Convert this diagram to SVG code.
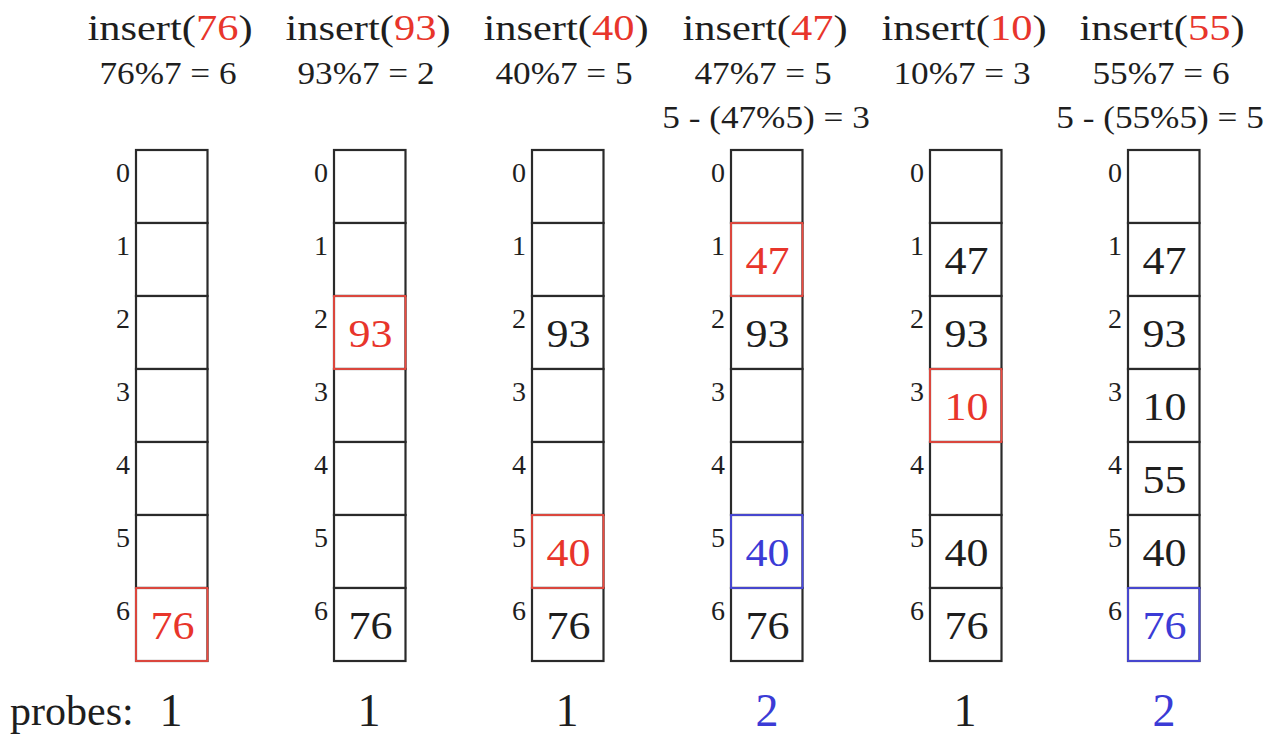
<svg xmlns="http://www.w3.org/2000/svg" width="1274" height="744" viewBox="0 0 1274 744">
<style>
text{font-family:"Liberation Serif","Times New Roman",serif;fill:#1e1e1e}
.h1{font-size:36px}
.h2{font-size:32px}
.idx{font-size:28px;text-anchor:end}
.val{font-size:40px}
.pr{font-size:42px}
.pn{font-size:46px}
.red{fill:#e8352b}
.blue{fill:#3b3bd6}
rect{fill:#fff;stroke:#2a2a2a;stroke-width:2.2}
rect.hr{fill:none;stroke:#ee4a40;stroke-width:1.8}
rect.hb{fill:none;stroke:#4a4ae0;stroke-width:1.8}
</style>
<rect x="0" y="0" width="1274" height="744" style="fill:#fff;stroke:none"/>

<!-- headers -->
<g id="headers" text-anchor="middle">
<text class="h1" transform="translate(170,40) scale(1.18,1)">insert(<tspan class="red">76</tspan>)</text>
<text class="h2" transform="translate(168,84) scale(1.1,1)">76%7 = 6</text>
<text class="h1" transform="translate(368,40) scale(1.18,1)">insert(<tspan class="red">93</tspan>)</text>
<text class="h2" transform="translate(366,84) scale(1.1,1)">93%7 = 2</text>
<text class="h1" transform="translate(566,40) scale(1.18,1)">insert(<tspan class="red">40</tspan>)</text>
<text class="h2" transform="translate(564,84) scale(1.1,1)">40%7 = 5</text>
<text class="h1" transform="translate(765,40) scale(1.18,1)">insert(<tspan class="red">47</tspan>)</text>
<text class="h2" transform="translate(763,84) scale(1.1,1)">47%7 = 5</text>
<text class="h2" transform="translate(766,128) scale(1.1,1)">5 - (47%5) = 3</text>
<text class="h1" transform="translate(964,40) scale(1.18,1)">insert(<tspan class="red">10</tspan>)</text>
<text class="h2" transform="translate(962,84) scale(1.1,1)">10%7 = 3</text>
<text class="h1" transform="translate(1162,40) scale(1.18,1)">insert(<tspan class="red">55</tspan>)</text>
<text class="h2" transform="translate(1161,84) scale(1.1,1)">55%7 = 6</text>
<text class="h2" transform="translate(1160,128) scale(1.1,1)">5 - (55%5) = 5</text>
</g>

<!-- column 1 -->
<g id="table1">
<rect x="136" y="150" width="71.5" height="73"/><rect x="136" y="223" width="71.5" height="73"/><rect x="136" y="296" width="71.5" height="73"/><rect x="136" y="369" width="71.5" height="73"/><rect x="136" y="442" width="71.5" height="73"/><rect x="136" y="515" width="71.5" height="73"/><rect x="136" y="588" width="71.5" height="73"/>
<rect class="hr" x="136" y="588" width="71.5" height="73"/>
<text class="idx" x="130" y="182">0</text><text class="idx" x="130" y="255">1</text><text class="idx" x="130" y="328">2</text><text class="idx" x="130" y="401">3</text><text class="idx" x="130" y="474">4</text><text class="idx" x="130" y="547">5</text><text class="idx" x="130" y="620">6</text>
<g id="t1-6"><text class="val red" text-anchor="middle" transform="translate(172.5,639) scale(1.1,1)">76</text></g>
</g>

<!-- column 2 -->
<g id="table2">
<rect x="334" y="150" width="71.5" height="73"/><rect x="334" y="223" width="71.5" height="73"/><rect x="334" y="296" width="71.5" height="73"/><rect x="334" y="369" width="71.5" height="73"/><rect x="334" y="442" width="71.5" height="73"/><rect x="334" y="515" width="71.5" height="73"/><rect x="334" y="588" width="71.5" height="73"/>
<rect class="hr" x="334" y="296" width="71.5" height="73"/>
<text class="idx" x="328" y="182">0</text><text class="idx" x="328" y="255">1</text><text class="idx" x="328" y="328">2</text><text class="idx" x="328" y="401">3</text><text class="idx" x="328" y="474">4</text><text class="idx" x="328" y="547">5</text><text class="idx" x="328" y="620">6</text>
<g id="t2-2"><text class="val red" text-anchor="middle" transform="translate(370.5,347) scale(1.1,1)">93</text></g>
<g id="t2-6"><text class="val" text-anchor="middle" transform="translate(370.5,639) scale(1.1,1)">76</text></g>
</g>

<!-- column 3 -->
<g id="table3">
<rect x="532" y="150" width="71.5" height="73"/><rect x="532" y="223" width="71.5" height="73"/><rect x="532" y="296" width="71.5" height="73"/><rect x="532" y="369" width="71.5" height="73"/><rect x="532" y="442" width="71.5" height="73"/><rect x="532" y="515" width="71.5" height="73"/><rect x="532" y="588" width="71.5" height="73"/>
<rect class="hr" x="532" y="515" width="71.5" height="73"/>
<text class="idx" x="526" y="182">0</text><text class="idx" x="526" y="255">1</text><text class="idx" x="526" y="328">2</text><text class="idx" x="526" y="401">3</text><text class="idx" x="526" y="474">4</text><text class="idx" x="526" y="547">5</text><text class="idx" x="526" y="620">6</text>
<g id="t3-2"><text class="val" text-anchor="middle" transform="translate(568.5,347) scale(1.1,1)">93</text></g>
<g id="t3-5"><text class="val red" text-anchor="middle" transform="translate(568.5,566) scale(1.1,1)">40</text></g>
<g id="t3-6"><text class="val" text-anchor="middle" transform="translate(568.5,639) scale(1.1,1)">76</text></g>
</g>

<!-- column 4 -->
<g id="table4">
<rect x="731" y="150" width="71.5" height="73"/><rect x="731" y="223" width="71.5" height="73"/><rect x="731" y="296" width="71.5" height="73"/><rect x="731" y="369" width="71.5" height="73"/><rect x="731" y="442" width="71.5" height="73"/><rect x="731" y="515" width="71.5" height="73"/><rect x="731" y="588" width="71.5" height="73"/>
<rect class="hr" x="731" y="223" width="71.5" height="73"/>
<rect class="hb" x="731" y="515" width="71.5" height="73"/>
<text class="idx" x="725" y="182">0</text><text class="idx" x="725" y="255">1</text><text class="idx" x="725" y="328">2</text><text class="idx" x="725" y="401">3</text><text class="idx" x="725" y="474">4</text><text class="idx" x="725" y="547">5</text><text class="idx" x="725" y="620">6</text>
<g id="t4-1"><text class="val red" text-anchor="middle" transform="translate(767.5,274) scale(1.1,1)">47</text></g>
<g id="t4-2"><text class="val" text-anchor="middle" transform="translate(767.5,347) scale(1.1,1)">93</text></g>
<g id="t4-5"><text class="val blue" text-anchor="middle" transform="translate(767.5,566) scale(1.1,1)">40</text></g>
<g id="t4-6"><text class="val" text-anchor="middle" transform="translate(767.5,639) scale(1.1,1)">76</text></g>
</g>

<!-- column 5 -->
<g id="table5">
<rect x="930" y="150" width="71.5" height="73"/><rect x="930" y="223" width="71.5" height="73"/><rect x="930" y="296" width="71.5" height="73"/><rect x="930" y="369" width="71.5" height="73"/><rect x="930" y="442" width="71.5" height="73"/><rect x="930" y="515" width="71.5" height="73"/><rect x="930" y="588" width="71.5" height="73"/>
<rect class="hr" x="930" y="369" width="71.5" height="73"/>
<text class="idx" x="924" y="182">0</text><text class="idx" x="924" y="255">1</text><text class="idx" x="924" y="328">2</text><text class="idx" x="924" y="401">3</text><text class="idx" x="924" y="474">4</text><text class="idx" x="924" y="547">5</text><text class="idx" x="924" y="620">6</text>
<g id="t5-1"><text class="val" text-anchor="middle" transform="translate(966.5,274) scale(1.1,1)">47</text></g>
<g id="t5-2"><text class="val" text-anchor="middle" transform="translate(966.5,347) scale(1.1,1)">93</text></g>
<g id="t5-3"><text class="val red" text-anchor="middle" transform="translate(966.5,420) scale(1.1,1)">10</text></g>
<g id="t5-5"><text class="val" text-anchor="middle" transform="translate(966.5,566) scale(1.1,1)">40</text></g>
<g id="t5-6"><text class="val" text-anchor="middle" transform="translate(966.5,639) scale(1.1,1)">76</text></g>
</g>

<!-- column 6 -->
<g id="table6">
<rect x="1128" y="150" width="71.5" height="73"/><rect x="1128" y="223" width="71.5" height="73"/><rect x="1128" y="296" width="71.5" height="73"/><rect x="1128" y="369" width="71.5" height="73"/><rect x="1128" y="442" width="71.5" height="73"/><rect x="1128" y="515" width="71.5" height="73"/><rect x="1128" y="588" width="71.5" height="73"/>
<rect class="hb" x="1128" y="588" width="71.5" height="73"/>
<text class="idx" x="1122" y="182">0</text><text class="idx" x="1122" y="255">1</text><text class="idx" x="1122" y="328">2</text><text class="idx" x="1122" y="401">3</text><text class="idx" x="1122" y="474">4</text><text class="idx" x="1122" y="547">5</text><text class="idx" x="1122" y="620">6</text>
<g id="t6-1"><text class="val" text-anchor="middle" transform="translate(1164.5,274) scale(1.1,1)">47</text></g>
<g id="t6-2"><text class="val" text-anchor="middle" transform="translate(1164.5,347) scale(1.1,1)">93</text></g>
<g id="t6-3"><text class="val" text-anchor="middle" transform="translate(1164.5,420) scale(1.1,1)">10</text></g>
<g id="t6-4"><text class="val" text-anchor="middle" transform="translate(1164.5,493) scale(1.1,1)">55</text></g>
<g id="t6-5"><text class="val" text-anchor="middle" transform="translate(1164.5,566) scale(1.1,1)">40</text></g>
<g id="t6-6"><text class="val blue" text-anchor="middle" transform="translate(1164.5,639) scale(1.1,1)">76</text></g>
</g>

<!-- probes -->
<g id="probes" text-anchor="middle">
<text class="pr" x="10" y="725" text-anchor="start">probes:</text>
<text class="pn" x="171" y="726">1</text>
<text class="pn" x="369" y="726">1</text>
<text class="pn" x="567" y="726">1</text>
<text class="pn blue" x="767" y="726">2</text>
<text class="pn" x="965" y="726">1</text>
<text class="pn blue" x="1164" y="726">2</text>
</g>
</svg>
